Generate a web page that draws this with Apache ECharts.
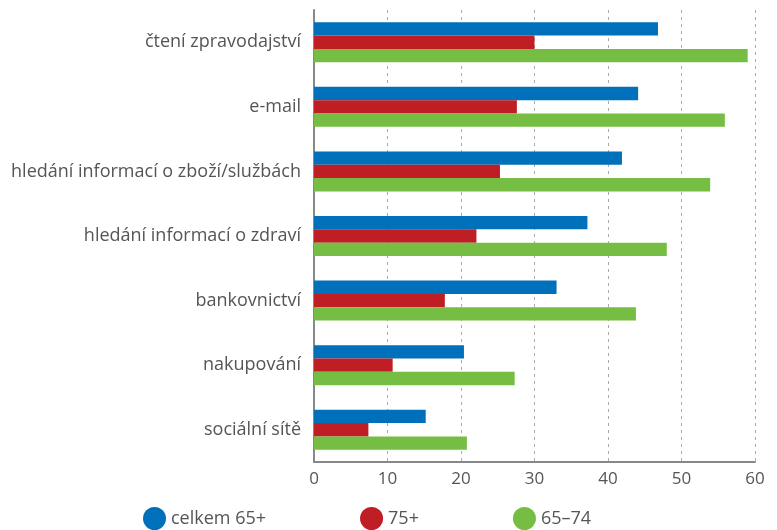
<!DOCTYPE html>
<html>
<head>
<meta charset="utf-8">
<script src="https://cdn.jsdelivr.net/npm/echarts@6/dist/echarts.min.js"></script>
<style>html,body{margin:0;padding:0;background:#fff}#c{width:777px;height:530px}</style>
</head>
<body>
<div id="c"></div>
<script>
var categories = ["čtení zpravodajství","e-mail","hledání informací o zboží/službách","hledání informací o zdraví","bankovnictví","nakupování","sociální sítě"];
var seriesNames = ["celkem 65+","75+","65–74"];
var total65 = [46.8,44.1,41.9,37.2,33.0,20.4,15.2];
var age75 = [30.0,27.6,25.3,22.1,17.8,10.7,7.4];
var age6574 = [59.0,55.9,53.9,48.0,43.8,27.3,20.8];
var xTicks = [0,10,20,30,40,50,60];
var colors = ["#0070BA","#BE1E24","#76BE43"];

var chart = echarts.init(document.getElementById('c'), null, {renderer:'canvas'});
var font = "'Open Sans', 'Noto Sans', sans-serif";
var dataSets = [total65, age75, age6574];
chart.setOption({
  animation:false,
  color: colors,
  textStyle:{fontFamily:font},
  grid:{left:314,right:22,top:10,bottom:68,containLabel:false},
  legend:{
    left:138, top:502, icon:'circle', itemWidth:23, itemHeight:23, itemGap:94,
    textStyle:{fontSize:18,color:'#555',fontFamily:font},
    data: seriesNames
  },
  xAxis:{
    type:'value', min:xTicks[0], max:xTicks[xTicks.length-1], interval:10,
    axisLine:{show:true,lineStyle:{color:'#888',width:2}},
    axisTick:{show:false},
    splitLine:{show:true,lineStyle:{color:'#aaa',type:[3,4],width:1}},
    axisLabel:{fontSize:17,color:'#555',margin:9,fontFamily:font}
  },
  yAxis:{
    type:'category', data:categories, inverse:true,
    axisLine:{show:true,lineStyle:{color:'#888',width:2}},
    axisTick:{show:false},
    axisLabel:{fontSize:18,color:'#555',margin:13,fontFamily:font}
  },
  series: seriesNames.map(function(n,i){
    return {name:n,type:'bar',data:dataSets[i],barGap:'0%',barCategoryGap:'38%',
      itemStyle:{color:colors[i]}};
  })
});
</script>
</body>
</html>
